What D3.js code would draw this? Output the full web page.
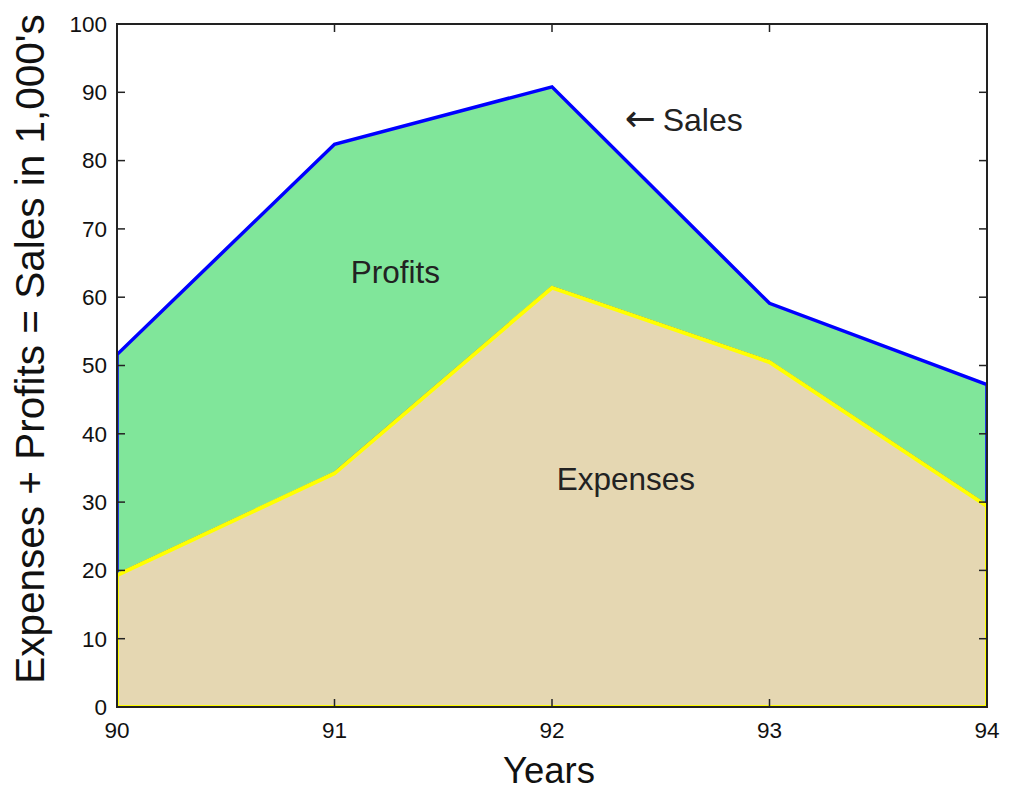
<!DOCTYPE html>
<html>
<head>
<meta charset="utf-8">
<script src="https://cdn.jsdelivr.net/npm/d3@7"></script>
<style>
  html, body { margin: 0; padding: 0; background: #fff; }
  svg { display: block; font-family: "Liberation Sans", Arial, sans-serif; }
</style>
</head>
<body>
<svg id="chart" width="1013" height="792"></svg>
<script>
// Yearly figures, in thousands
const years = [90, 91, 92, 93, 94];
const expenses = [19.3, 34.2, 61.4, 50.5, 29.4];
const sales = [51.6, 82.4, 90.8, 59.1, 47.2];
const yTicks = [0, 10, 20, 30, 40, 50, 60, 70, 80, 90, 100];
const xTicks = [90, 91, 92, 93, 94];

(function () {
const svg = d3.select("#chart");
const pLeft = 117, pRight = 987, pTop = 24, pBottom = 707;

const x = d3.scaleLinear().domain([90, 94]).range([pLeft, pRight]);
const y = d3.scaleLinear().domain([0, 100]).range([pBottom, pTop]);

svg.append("defs").append("clipPath").attr("id", "plotClip")
  .append("rect").attr("x", pLeft).attr("y", pTop)
  .attr("width", pRight - pLeft).attr("height", pBottom - pTop);

const rows = years.map((yr, i) => ({ yr, exp: expenses[i], sal: sales[i] }));

const plot = svg.append("g").attr("clip-path", "url(#plotClip)");

// Profits band: between expenses and sales
const profitArea = d3.area()
  .x(d => x(d.yr)).y0(d => y(d.exp)).y1(d => y(d.sal));
plot.append("path")
  .attr("d", profitArea(rows) + "Z")
  .attr("fill", "#80e69a").attr("stroke", "#0000ff")
  .attr("stroke-width", 3.5).attr("stroke-linejoin", "miter");

// Expenses band: from zero up to expenses
const expenseArea = d3.area()
  .x(d => x(d.yr)).y0(() => y(0)).y1(d => y(d.exp));
plot.append("path")
  .attr("d", expenseArea(rows) + "Z")
  .attr("fill", "#e5d7b2").attr("stroke", "#ffff00")
  .attr("stroke-width", 4);

// Ticks drawn inward on all four sides
const tickLen = 8;
const axG = svg.append("g").attr("stroke", "#222").attr("stroke-width", 1.5);
yTicks.forEach(t => {
  axG.append("line").attr("x1", pLeft).attr("x2", pLeft + tickLen).attr("y1", y(t)).attr("y2", y(t));
  axG.append("line").attr("x1", pRight).attr("x2", pRight - tickLen).attr("y1", y(t)).attr("y2", y(t));
});
xTicks.forEach(t => {
  axG.append("line").attr("x1", x(t)).attr("x2", x(t)).attr("y1", pBottom).attr("y2", pBottom - tickLen);
  axG.append("line").attr("x1", x(t)).attr("x2", x(t)).attr("y1", pTop).attr("y2", pTop + tickLen);
});
svg.append("rect").attr("x", pLeft).attr("y", pTop)
  .attr("width", pRight - pLeft).attr("height", pBottom - pTop)
  .attr("fill", "none").attr("stroke", "#222").attr("stroke-width", 2);

const tickFont = 22.5;
svg.append("g").selectAll("text").data(yTicks).join("text")
  .attr("x", pLeft - 10).attr("y", d => y(d)).attr("dy", "0.35em")
  .attr("text-anchor", "end").attr("font-size", tickFont).attr("fill", "#111")
  .text(d => d);
svg.append("g").selectAll("text").data(xTicks).join("text")
  .attr("x", d => x(d)).attr("y", pBottom + 31)
  .attr("text-anchor", "middle").attr("font-size", tickFont).attr("fill", "#111")
  .text(d => d);

// Axis titles
svg.append("text").attr("x", (pLeft + pRight) / 2 - 3).attr("y", 783)
  .attr("text-anchor", "middle").attr("font-size", 36.5).attr("fill", "#111")
  .text("Years");
svg.append("text")
  .attr("transform", "translate(44, 349) rotate(-90)")
  .attr("text-anchor", "middle").attr("font-size", 40.5).attr("fill", "#111")
  .text("Expenses + Profits = Sales in 1,000's");

// In-plot labels
svg.append("text").attr("x", x(91.28)).attr("y", y(62.1))
  .attr("text-anchor", "middle").attr("font-size", 31.5).attr("fill", "#222")
  .text("Profits");
svg.append("text").attr("x", x(92.34)).attr("y", y(31.8))
  .attr("text-anchor", "middle").attr("font-size", 31.5).attr("fill", "#222")
  .text("Expenses");
const salesLabel = svg.append("text").attr("x", x(92.334)).attr("y", y(84.3))
  .attr("text-anchor", "start").attr("font-size", 32).attr("fill", "#222");
salesLabel.append("tspan").attr("font-family", "DejaVu Sans").attr("font-size", 37).text("\u2190");
salesLabel.append("tspan").attr("dx", 7).text("Sales");
})();
</script>
</body>
</html>
